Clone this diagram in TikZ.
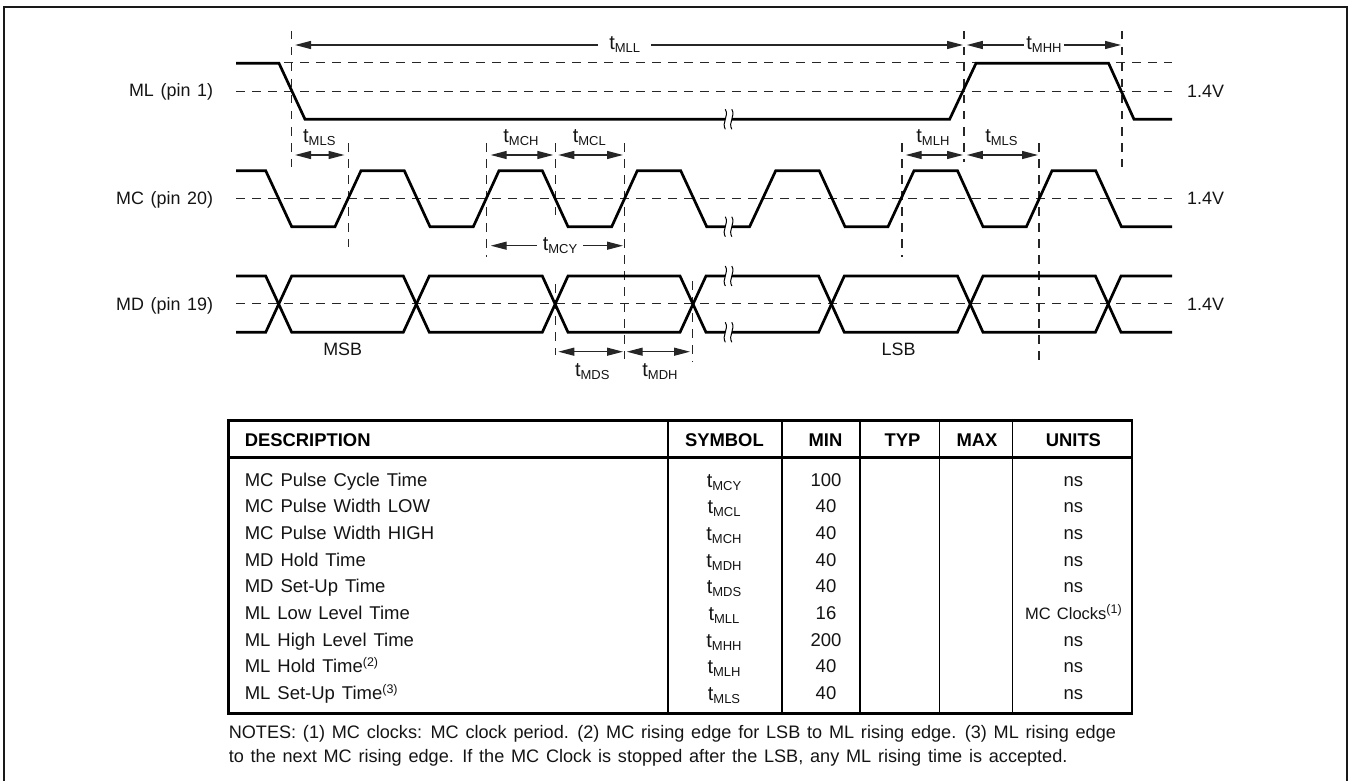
\documentclass[tikz,border=0pt]{standalone}
\usepackage{fontspec}
\setmainfont{Liberation Sans}[WordSpace=1.35]
\usetikzlibrary{arrows.meta}
\newcommand\tsb[1]{{\fontsize{20}{20}\selectfont t}\raisebox{-3pt}{\fontsize{13}{14}\selectfont #1}}
\newcommand\spx[1]{\raisebox{6pt}{\fontsize{12.5}{13}\selectfont (#1)}}
\newcommand\brk[2]{%
  \begin{scope}[shift={(#1,#2)}]
    \fill[white] (0,-2.2) rectangle (6.5,2.2);
    \draw[brkline] (0,-10) .. controls (4,-3) and (-4,3) .. (0,10);
    \draw[brkline] (6.5,-10) .. controls (10.5,-3) and (2.5,3) .. (6.5,10);
  \end{scope}}
\tikzset{
  x=1pt,y=-1pt,
  wave/.style={line width=2.7pt,line join=miter,black},
  guide/.style={line width=1.05pt,dash pattern=on 8.5pt off 7.5pt,black!85},
  dimline/.style={line width=1.25pt,black!85,-{Triangle[length=16pt,width=8pt]}},
  dimboth/.style={line width=1.25pt,black!85,{Triangle[length=16pt,width=8pt]}-{Triangle[length=16pt,width=8pt]}},
  brkline/.style={line width=1pt,black},
  txt/.style={anchor=base,inner sep=0pt,font=\fontsize{17.9}{20}\selectfont,text=black!92},
  txtl/.style={txt,anchor=base west},
  txtr/.style={txt,anchor=base east},
  desc/.style={txtl,font=\fontsize{18.5}{20}\selectfont},
  head/.style={txt,font=\fontsize{18.4}{20}\selectfont\bfseries,text=black},
  gaplabel/.style={txt,inner xsep=#1},
  rule/.style={line width=2.6pt,black},
  thinrule/.style={line width=1.2pt,black},
  note/.style={txtl,font=\fontsize{18.1}{20}\selectfont}
}
\begin{document}
\begin{tikzpicture}
\useasboundingbox (0,0) rectangle (1348,781);
% page frame
\draw[line width=2.4pt,black!90] (4,781) -- (4,7) -- (1347.4,7) -- (1347.4,781);

% horizontal reference levels
\foreach \yy in {62.3,91.7,198.3,303.3}
  \draw[guide] (236,\yy) -- (1172,\yy);

% vertical guides
\coordinate (vAt) at (291.7,31);   \coordinate (vAb) at (291.7,167);
\coordinate (vBt) at (348.3,143);  \coordinate (vBb) at (348.3,247);
\coordinate (vCt) at (486.7,143);  \coordinate (vCb) at (486.7,257);
\coordinate (vDt) at (555.3,143);  \coordinate (vDb) at (555.3,215);
\coordinate (vEt) at (555.3,284);  \coordinate (vEb) at (555.3,355);
\coordinate (vFt) at (624.3,143);  \coordinate (vFb) at (624.3,359);
\coordinate (vGt) at (692.7,281);  \coordinate (vGb) at (692.7,362);
\coordinate (vHt) at (902,143);    \coordinate (vHb) at (902,257);
\coordinate (vIt) at (964,31);     \coordinate (vIb) at (964,162);
\coordinate (vJt) at (1039,143);   \coordinate (vJb) at (1039,360);
\coordinate (vKt) at (1122,31);    \coordinate (vKb) at (1122,167);
\foreach \vv in {A,B,C,D,E,F,G,H,I,J,K}
  \draw[guide] (v\vv t) -- (v\vv b);

% waveforms
\draw[wave] (236,63.3) -- (279,63.3) -- (305,119.3) -- (949.6,119.3) -- (976,63.3) -- (1108.6,63.3) -- (1134,119.3) -- (1172,119.3);
\draw[wave] (236,170.7) -- (265.7,170.7) -- (291.7,226.7) -- (335,226.7) -- (361,170.7) -- (404.3,170.7) -- (430,226.7) -- (473.3,226.7) -- (499,170.7) -- (542.3,170.7) -- (568,226.7) -- (611.7,226.7) -- (637.3,170.7) -- (680.7,170.7) -- (706.7,226.7) -- (749.6,226.7) -- (775.7,170.7) -- (819.3,170.7) -- (845,226.7) -- (888,226.7) -- (914,170.7) -- (957.5,170.7) -- (983,226.7) -- (1026.4,226.7) -- (1052,170.7) -- (1095.7,170.7) -- (1121.4,226.7) -- (1172,226.7);
\draw[wave] (236,276) -- (265.7,276) -- (291.7,332.3) -- (403.3,332.3) -- (429.3,276) -- (542.3,276) -- (568,332.3) -- (680,332.3) -- (706,276) -- (818.6,276) -- (844.3,332.3) -- (957.5,332.3) -- (983,276) -- (1095.4,276) -- (1121,332.3) -- (1172,332.3);
\draw[wave] (236,332.3) -- (265.7,332.3) -- (291.7,276) -- (403.3,276) -- (429.3,332.3) -- (542.3,332.3) -- (568,276) -- (680,276) -- (706,332.3) -- (818.6,332.3) -- (844.3,276) -- (957.5,276) -- (983,332.3) -- (1095.4,332.3) -- (1121,276) -- (1172,276);

% breaks
\brk{725.3}{119.3}
\brk{725.3}{226.7}
\brk{725.3}{276}
\brk{725.3}{332.3}

% signal labels
\node[txtr] (lML) at (213.3,97) {ML (pin 1)};
\node[txtr] (lMC) at (213.3,204) {MC (pin 20)};
\node[txtr] (lMD) at (213.3,310) {MD (pin 19)};
\node[txtl] (vA) at (1187,98) {1.4V};
\node[txtl] (vB) at (1187,204) {1.4V};
\node[txtl] (vC) at (1187,310) {1.4V};
\node[txt] (lMSB) at (342.7,355) {MSB};
\node[txt] (lLSB) at (898.6,355) {LSB};

% timing labels above arrows
\node[txt] (tMLSa) at (319.3,142.7) {\tsb{MLS}};
\node[txt] (tMCH) at (521,142.7) {\tsb{MCH}};
\node[txt] (tMCL) at (589.3,142.7) {\tsb{MCL}};
\node[txt] (tMLH) at (932.9,142.7) {\tsb{MLH}};
\node[txt] (tMLSb) at (1001.4,142.7) {\tsb{MLS}};
\node[txt] (tMDS) at (592.3,376.7) {\tsb{MDS}};
\node[txt] (tMDH) at (660,376.7) {\tsb{MDH}};

% arrows between guides
\coordinate (aA1) at (295,155);   \coordinate (aA2) at (344.5,155);
\coordinate (aB1) at (490.7,155); \coordinate (aB2) at (553.3,155);
\coordinate (aC1) at (558.3,155); \coordinate (aC2) at (623,155);
\coordinate (aD1) at (905.7,155); \coordinate (aD2) at (963,155);
\coordinate (aE1) at (966.8,155); \coordinate (aE2) at (1038,155);
\coordinate (aF1) at (558.3,351.7); \coordinate (aF2) at (623,351.7);
\coordinate (aG1) at (626.7,351.7); \coordinate (aG2) at (690,351.7);
\foreach \aa in {A,B,C,D,E,F,G}
  \draw[dimboth] (a\aa 1) -- (a\aa 2);

% arrows broken by their label
\node[gaplabel=11pt] (tMLL) at (624.7,50) {\tsb{MLL}};
\node[gaplabel=2pt] (tMHH) at (1044,50) {\tsb{MHH}};
\node[gaplabel=6pt] (tMCY) at (560,250) {\tsb{MCY}};
\coordinate (mllL) at (295,45);   \coordinate (mllR) at (963,45);
\coordinate (mhhL) at (966.8,45); \coordinate (mhhR) at (1121,45);
\coordinate (mcyL) at (490.7,245.7); \coordinate (mcyR) at (623,245.7);
\draw[dimline] (tMLL.west|-mllL) -- (mllL);
\draw[dimline] (tMLL.east|-mllR) -- (mllR);
\draw[dimline] (tMHH.west|-mhhL) -- (mhhL);
\draw[dimline] (tMHH.east|-mhhR) -- (mhhR);
\draw[dimline] (tMCY.west|-mcyL) -- (mcyL);
\draw[dimline] (tMCY.east|-mcyR) -- (mcyR);

% table
\draw[rule] (228.6,420.7) rectangle (1132,713.3);
\draw[rule] (228.6,457.7) -- (1132,457.7);
\draw[rule] (667.8,420.7) -- (667.8,713.3);
\draw[rule] (781.8,420.7) -- (781.8,713.3);
\draw[thinrule] (860,420.7) -- (860,713.3);
\draw[thinrule] (939.4,420.7) -- (939.4,713.3);
\draw[thinrule] (1012.4,420.7) -- (1012.4,713.3);

\node[head,anchor=base west] (hDesc) at (244.6,446) {DESCRIPTION};
\node[head] (hSym) at (724.4,446) {SYMBOL};
\node[head] (hMin) at (825.5,446) {MIN};
\node[head] (hTyp) at (902.4,446) {TYP};
\node[head] (hMax) at (977,446) {MAX};
\node[head] (hUni) at (1073.4,446) {UNITS};

\foreach \rowid/\rowdesc/\rowsym/\rowmin/\rowunit/\rowy in {
  a/{MC Pulse Cycle Time}/MCY/100/{ns}/486.7,
  b/{MC Pulse Width LOW}/MCL/40/{ns}/512.7,
  c/{MC Pulse Width HIGH}/MCH/40/{ns}/539.3,
  d/{MD Hold Time}/MDH/40/{ns}/566,
  e/{MD Set-Up Time}/MDS/40/{ns}/592.3,
  f/{ML Low Level Time}/MLL/16/{\fontsize{16.5}{18}\selectfont MC Clocks\spx{1}}/619.3,
  g/{ML High Level Time}/MHH/200/{ns}/646,
  h/{ML Hold Time\spx{2}}/MLH/40/{ns}/672.7,
  i/{ML Set-Up Time\spx{3}}/MLS/40/{ns}/699.3}
{
  \node[desc] (d\rowid) at (244.6,\rowy) {\rowdesc};
  \node[txt] (s\rowid) at (724,\rowy+1) {\tsb{\rowsym}};
  \node[txt,font=\fontsize{18.5}{20}\selectfont] (m\rowid) at (826,\rowy) {\rowmin};
  \node[txt,font=\fontsize{18.5}{20}\selectfont] (u\rowid) at (1073.4,\rowy) {\rowunit};
}

% notes
\node[note] (n1) at (228.6,738.3) {NOTES: (1) MC clocks: MC clock period. (2) MC rising edge for LSB to ML rising edge. (3) ML rising edge};
\node[note] (n2) at (228.6,762) {to the next MC rising edge. If the MC Clock is stopped after the LSB, any ML rising time is accepted.};
\end{tikzpicture}
\end{document}
